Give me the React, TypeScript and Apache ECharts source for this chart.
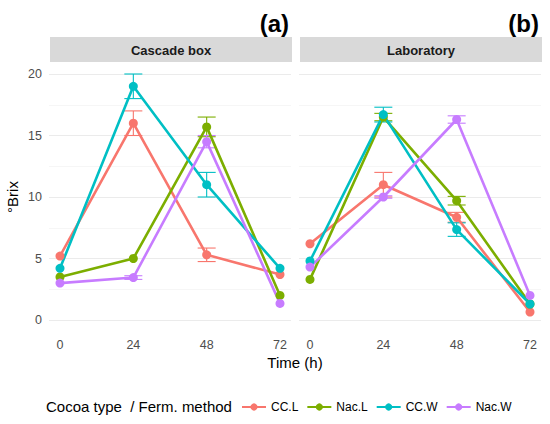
import React, { useEffect, useRef } from "react";
import * as echarts from "echarts";

const times = [0, 24, 48, 72];
const groupNames = ["CC.L", "Nac.L", "CC.W", "Nac.W"];
const groupColors = ["#F8766D", "#7CAE00", "#00BFC4", "#C77CFF"];
const panelTitles = ["Cascade box", "Laboratory"];
const panelTags = ["(a)", "(b)"];

// Cascade box (a): mean °Brix per group at 0, 24, 48, 72 h
const cascadeMeans = [
  [5.2, 16.0, 5.3, 3.7],
  [3.5, 5.0, 15.7, 2.0],
  [4.2, 19.0, 11.0, 4.2],
  [3.0, 3.45, 14.5, 1.35],
];
// half-width of error bars (null = no error bar drawn)
const cascadeErrors = [
  [null, 1.0, 0.55, null],
  [null, null, 0.8, null],
  [null, 1.0, 1.0, null],
  [null, 0.15, 0.5, null],
];

// Laboratory (b)
const labMeans = [
  [6.2, 11.0, 8.35, 0.65],
  [3.3, 16.5, 9.7, 1.3],
  [4.8, 16.7, 7.35, 1.3],
  [4.3, 10.0, 16.3, 2.0],
];
const labErrors = [
  [null, 1.0, 0.4, null],
  [null, 0.3, 0.35, null],
  [null, 0.6, 0.55, null],
  [null, 0.1, 0.3, null],
];

const FONT = "Liberation Sans, Arial, sans-serif";

export default function App() {
  const ref = useRef<HTMLDivElement>(null);

  useEffect(() => {
    if (!ref.current) return;
    const chart = echarts.init(ref.current, undefined, { renderer: "svg" });

    const panelData = [
      { means: cascadeMeans, errors: cascadeErrors },
      { means: labMeans, errors: labErrors },
    ];
    const gridLefts = [49, 299];
    const gridWidth = 242;

    const grids = gridLefts.map((l) => ({
      left: l,
      width: gridWidth,
      top: 74,
      height: 246,
    }));

    const xAxes = gridLefts.map((_, i) => ({
      type: "value",
      gridIndex: i,
      min: -3.6,
      max: 75.6,
      axisLine: { show: false },
      axisTick: { show: false },
      splitLine: { show: false },
      axisLabel: {
        customValues: times,
        color: "#4D4D4D",
        fontSize: 12.5,
        fontFamily: FONT,
        margin: 18,
      },
    }));

    const yAxes = gridLefts.map((_, i) => ({
      type: "value",
      gridIndex: i,
      min: 0,
      max: 20,
      interval: 5,
      name: i === 0 ? "°Brix" : "",
      nameLocation: "middle",
      nameRotate: 90,
      nameGap: 29,
      nameTextStyle: { color: "#000", fontSize: 15, fontFamily: FONT },
      axisLine: { show: false },
      axisTick: { show: false },
      minorTick: { show: false, splitNumber: 2 },
      splitLine: { show: true, lineStyle: { color: "#EBEBEB", width: 1.1 } },
      minorSplitLine: { show: true, lineStyle: { color: "#F2F2F2", width: 0.7 } },
      axisLabel: {
        show: i === 0,
        color: "#4D4D4D",
        fontSize: 12.5,
        fontFamily: FONT,
        margin: 7,
      },
    }));

    const series: any[] = [];
    panelData.forEach((p, pi) => {
      groupNames.forEach((name, gi) => {
        const errData: number[][] = [];
        times.forEach((t, ti) => {
          const e = p.errors[gi][ti];
          if (e === null || e === undefined) return;
          errData.push([t, p.means[gi][ti] - e, p.means[gi][ti] + e]);
        });
        series.push({
          type: "custom",
          name: "err-" + name + "-" + pi,
          xAxisIndex: pi,
          yAxisIndex: pi,
          clip: false,
          z: 2,
          encode: { x: 0, y: [1, 2] },
          data: errData,
          renderItem: (params: any, api: any) => {
            const x = api.value(0);
            const lo = api.coord([x, api.value(1)]);
            const hi = api.coord([x, api.value(2)]);
            const hw = 9;
            const style = { stroke: groupColors[gi], lineWidth: 1.1, fill: "none" };
            return {
              type: "group",
              children: [
                { type: "line", shape: { x1: lo[0], y1: lo[1], x2: hi[0], y2: hi[1] }, style },
                { type: "line", shape: { x1: lo[0] - hw, y1: lo[1], x2: lo[0] + hw, y2: lo[1] }, style },
                { type: "line", shape: { x1: hi[0] - hw, y1: hi[1], x2: hi[0] + hw, y2: hi[1] }, style },
              ],
            };
          },
        });
        series.push({
          type: "line",
          name,
          xAxisIndex: pi,
          yAxisIndex: pi,
          clip: false,
          z: 3,
          data: times.map((t, ti) => [t, p.means[gi][ti]]),
          symbol: "circle",
          symbolSize: 9,
          showSymbol: true,
          itemStyle: { color: groupColors[gi] },
          lineStyle: { color: groupColors[gi], width: 2.6 },
          emphasis: { disabled: true },
        });
      });
    });

    const graphics: any[] = [];
    gridLefts.forEach((l, i) => {
      graphics.push({
        type: "rect",
        shape: { x: l + 1, y: 37, width: gridWidth, height: 25 },
        style: { fill: "#D9D9D9" },
        silent: true,
      });
      graphics.push({
        type: "text",
        x: l + 1 + gridWidth / 2,
        y: 50,
        style: {
          text: panelTitles[i],
          fill: "#1A1A1A",
          font: "bold 13px " + FONT,
          align: "center",
          verticalAlign: "middle",
        },
        silent: true,
      });
      graphics.push({
        type: "text",
        x: l + gridWidth - 2,
        y: 23,
        style: {
          text: panelTags[i],
          fill: "#000",
          font: "bold 24px " + FONT,
          align: "right",
          verticalAlign: "middle",
        },
        silent: true,
      });
    });
    graphics.push({
      type: "text",
      x: 295,
      y: 362,
      style: {
        text: "Time (h)",
        fill: "#000",
        font: "15px " + FONT,
        align: "center",
        verticalAlign: "middle",
      },
      silent: true,
    });
    graphics.push({
      type: "text",
      x: 46,
      y: 406,
      style: {
        text: "Cocoa type  / Ferm. method",
        fill: "#000",
        font: "15px " + FONT,
        align: "left",
        verticalAlign: "middle",
      },
      silent: true,
    });

    chart.setOption({
      animation: false,
      backgroundColor: "#fff",
      grid: grids,
      xAxis: xAxes,
      yAxis: yAxes,
      series,
      graphic: graphics,
      legend: {
        data: groupNames,
        left: 236,
        top: 396,
        itemWidth: 24,
        itemHeight: 9,
        itemGap: 8,
        selectedMode: false,
        textStyle: { color: "#000", fontSize: 12, fontFamily: FONT },
      },
    });

    return () => chart.dispose();
  }, []);

  return (
    <div
      ref={ref}
      style={{ position: "fixed", left: 0, top: 0, width: 550, height: 424 }}
    />
  );
}
